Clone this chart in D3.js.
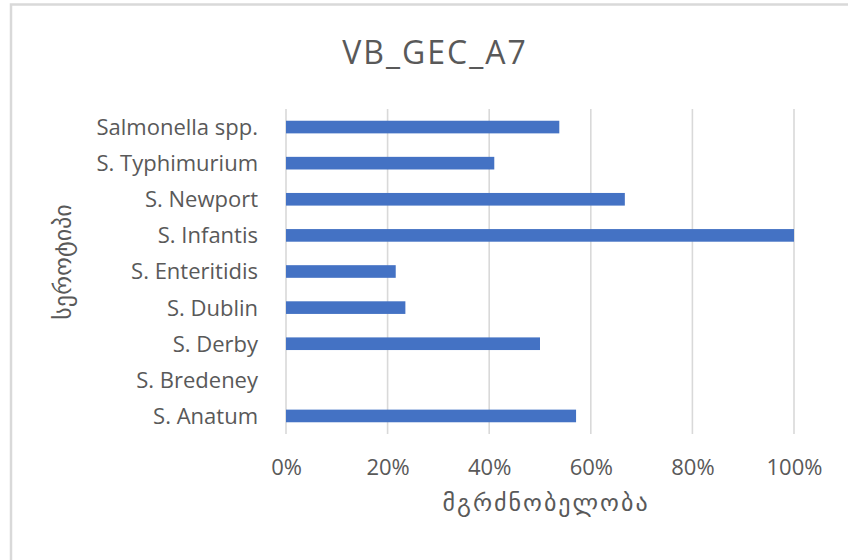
<!DOCTYPE html>
<html>
<head>
<meta charset="utf-8">
<script src="https://cdn.jsdelivr.net/npm/d3@7"></script>
<style>
  html, body { margin: 0; padding: 0; background: #fff; }
  svg { display: block; }
  text { font-family: "Open Sans", "DejaVu Sans", sans-serif; fill: #595959; }
  .geo { font-family: "DejaVu Sans", sans-serif; }
</style>
</head>
<body>
<script>
// Serotypes (bottom to top as drawn) and sensitivity share
const serotypes = ["S. Anatum", "S. Bredeney", "S. Derby", "S. Dublin", "S. Enteritidis",
                   "S. Infantis", "S. Newport", "S. Typhimurium", "Salmonella spp."];
const sensitivity = [0.571, 0, 0.50, 0.235, 0.216, 1.00, 0.667, 0.41, 0.538];
const xTicks = [0, 0.2, 0.4, 0.6, 0.8, 1.0];

const chartTitle = "VB_GEC_A7";
const xTitle = "მგრძნობელობა";
const yTitle = "სეროტიპი";

const W = 848, H = 560;
const plot = { left: 286, right: 794, top: 109, bottom: 434 };

const svg = d3.select("body").append("svg")
  .attr("width", W).attr("height", H);

// chart frame
svg.append("rect")
  .attr("x", 11).attr("y", 4.5)
  .attr("width", W + 20).attr("height", H + 20)
  .attr("fill", "#fff").attr("stroke", "#d9d9d9").attr("stroke-width", 2.5);

const x = d3.scaleLinear().domain([0, 1]).range([plot.left, plot.right]);
const y = d3.scaleBand()
  .domain(serotypes.slice().reverse())
  .range([plot.top, plot.bottom])
  .paddingInner(0.65).paddingOuter(0.325);

// vertical gridlines
svg.append("g").selectAll("line").data(xTicks).join("line")
  .attr("x1", d => x(d)).attr("x2", d => x(d))
  .attr("y1", plot.top).attr("y2", plot.bottom)
  .attr("stroke", "#d9d9d9").attr("stroke-width", 1.6);

// bars
svg.append("g").selectAll("rect").data(serotypes).join("rect")
  .attr("x", x(0))
  .attr("y", d => y(d))
  .attr("width", (d, i) => x(sensitivity[i]) - x(0))
  .attr("height", y.bandwidth())
  .attr("fill", "#4472c4");

// category axis
const yAxis = svg.append("g")
  .attr("transform", `translate(${plot.left},0)`)
  .call(d3.axisLeft(y).tickSize(0).tickPadding(28));
yAxis.select(".domain").remove();
yAxis.selectAll("text")
  .attr("font-size", 22).attr("fill", "#595959").attr("dy", "0.36em")
  .style("font-family", '"Open Sans", sans-serif');

// value axis
const xAxis = svg.append("g")
  .attr("transform", `translate(0,${plot.bottom})`)
  .call(d3.axisBottom(x).tickValues(xTicks).tickFormat(d3.format(".0%")).tickSize(0).tickPadding(25));
xAxis.select(".domain").remove();
xAxis.selectAll("text")
  .attr("font-size", 22).attr("fill", "#595959")
  .style("font-family", '"Open Sans", sans-serif');

// title
svg.append("text")
  .attr("x", 435).attr("y", 64)
  .attr("text-anchor", "middle")
  .attr("font-size", 32)
  .attr("letter-spacing", 2)
  .text(chartTitle);

// axis titles
svg.append("text").attr("class", "geo")
  .attr("x", 546).attr("y", 511)
  .attr("text-anchor", "middle")
  .attr("font-size", 24)
  .attr("letter-spacing", 2)
  .text(xTitle);

svg.append("text").attr("class", "geo")
  .attr("transform", "translate(71,262) rotate(-90)")
  .attr("text-anchor", "middle")
  .attr("font-size", 24)
  .text(yTitle);
</script>
</body>
</html>
